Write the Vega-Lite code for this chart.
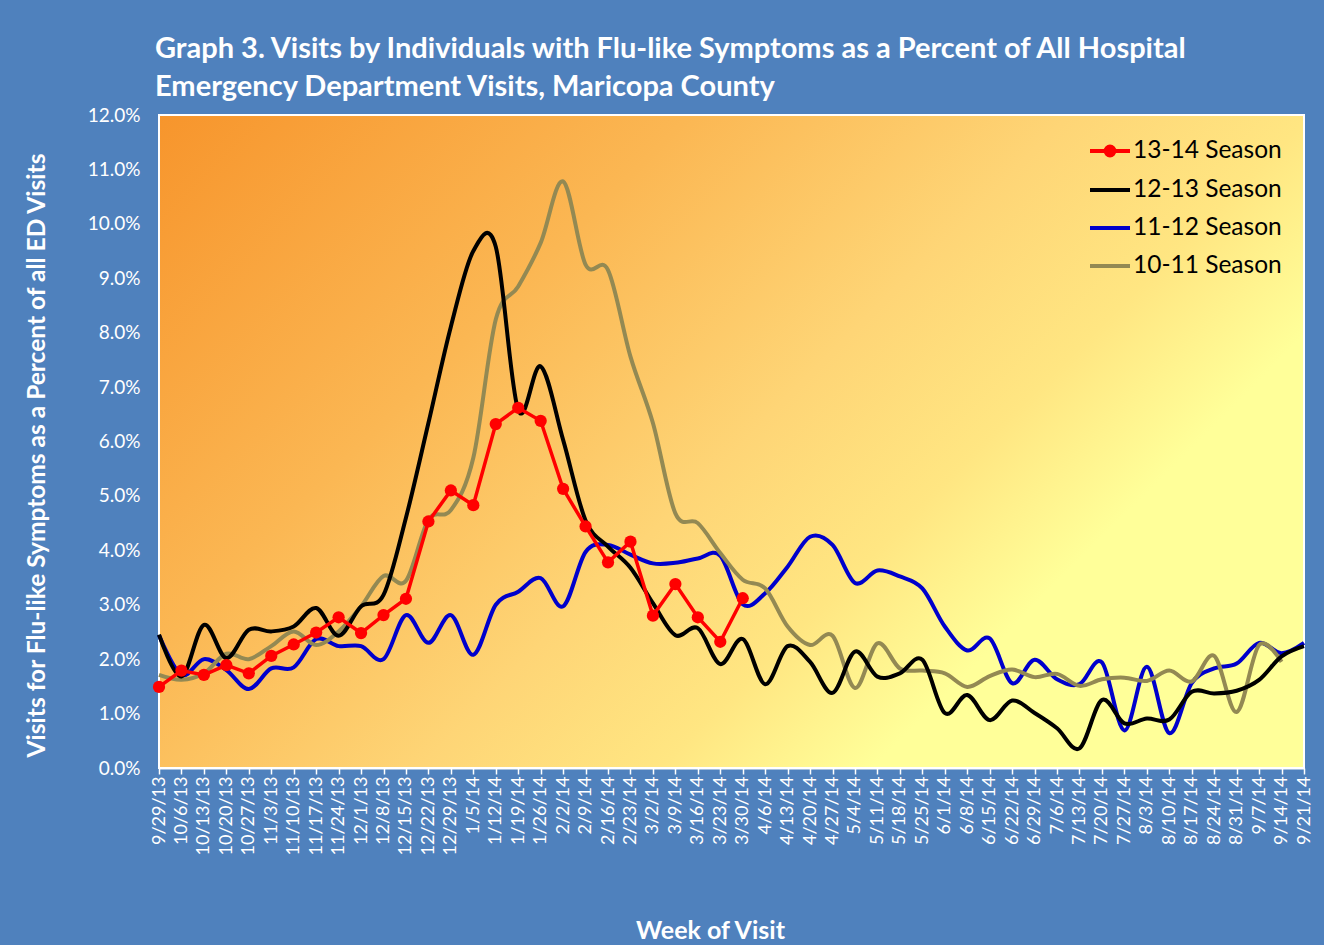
{
  "$schema": "https://vega.github.io/schema/vega-lite/v6.json",
  "width": 1145,
  "height": 653,
  "autosize": "none",
  "padding": {"left": 159, "top": 115, "right": 20, "bottom": 177},
  "background": "#4f81bd",
  "title": {
    "text": ["Graph 3. Visits by Individuals  with Flu-like Symptoms as a Percent of All Hospital", "Emergency Department Visits,  Maricopa County"],
    "anchor": "start", "frame": "group", "color": "white", "font": "Lato", "fontSize": 29, "fontWeight": "bold",
    "lineHeight": 38, "offset": 4, "dx": -4
  },
  "datasets": {
    "flu": [
      {"week": "9/29/13", "13-14 Season": 0.0149, "12-13 Season": 0.0245, "11-12 Season": 0.0244, "10-11 Season": 0.0171},
      {"week": "10/6/13", "13-14 Season": 0.0179, "12-13 Season": 0.0168, "11-12 Season": 0.0171, "10-11 Season": 0.0162},
      {"week": "10/13/13", "13-14 Season": 0.0171, "12-13 Season": 0.0263, "11-12 Season": 0.0200, "10-11 Season": 0.0174},
      {"week": "10/20/13", "13-14 Season": 0.0189, "12-13 Season": 0.0202, "11-12 Season": 0.0180, "10-11 Season": 0.0210},
      {"week": "10/27/13", "13-14 Season": 0.0174, "12-13 Season": 0.0254, "11-12 Season": 0.0145, "10-11 Season": 0.0200},
      {"week": "11/3/13", "13-14 Season": 0.0206, "12-13 Season": 0.0251, "11-12 Season": 0.0183, "10-11 Season": 0.0224},
      {"week": "11/10/13", "13-14 Season": 0.0227, "12-13 Season": 0.0260, "11-12 Season": 0.0185, "10-11 Season": 0.0251},
      {"week": "11/17/13", "13-14 Season": 0.0249, "12-13 Season": 0.0294, "11-12 Season": 0.0237, "10-11 Season": 0.0226},
      {"week": "11/24/13", "13-14 Season": 0.0277, "12-13 Season": 0.0243, "11-12 Season": 0.0224, "10-11 Season": 0.0251},
      {"week": "12/1/13", "13-14 Season": 0.0248, "12-13 Season": 0.0297, "11-12 Season": 0.0224, "10-11 Season": 0.0297},
      {"week": "12/8/13", "13-14 Season": 0.0281, "12-13 Season": 0.0318, "11-12 Season": 0.0200, "10-11 Season": 0.0353},
      {"week": "12/15/13", "13-14 Season": 0.0311, "12-13 Season": 0.0460, "11-12 Season": 0.0281, "10-11 Season": 0.0344},
      {"week": "12/22/13", "13-14 Season": 0.0453, "12-13 Season": 0.0634, "11-12 Season": 0.0230, "10-11 Season": 0.0456},
      {"week": "12/29/13", "13-14 Season": 0.0510, "12-13 Season": 0.0811, "11-12 Season": 0.0281, "10-11 Season": 0.0474},
      {"week": "1/5/14", "13-14 Season": 0.0483, "12-13 Season": 0.0950, "11-12 Season": 0.0208, "10-11 Season": 0.0570},
      {"week": "1/12/14", "13-14 Season": 0.0632, "12-13 Season": 0.0958, "11-12 Season": 0.0300, "10-11 Season": 0.0824},
      {"week": "1/19/14", "13-14 Season": 0.0662, "12-13 Season": 0.0658, "11-12 Season": 0.0324, "10-11 Season": 0.0885},
      {"week": "1/26/14", "13-14 Season": 0.0638, "12-13 Season": 0.0738, "11-12 Season": 0.0349, "10-11 Season": 0.0965},
      {"week": "2/2/14", "13-14 Season": 0.0513, "12-13 Season": 0.0603, "11-12 Season": 0.0297, "10-11 Season": 0.1078},
      {"week": "2/9/14", "13-14 Season": 0.0444, "12-13 Season": 0.0455, "11-12 Season": 0.0397, "10-11 Season": 0.0925},
      {"week": "2/16/14", "13-14 Season": 0.0378, "12-13 Season": 0.0407, "11-12 Season": 0.0410, "10-11 Season": 0.0915},
      {"week": "2/23/14", "13-14 Season": 0.0416, "12-13 Season": 0.0368, "11-12 Season": 0.0392, "10-11 Season": 0.0756},
      {"week": "3/2/14", "13-14 Season": 0.0280, "12-13 Season": 0.0303, "11-12 Season": 0.0376, "10-11 Season": 0.0634},
      {"week": "3/9/14", "13-14 Season": 0.0338, "12-13 Season": 0.0244, "11-12 Season": 0.0377, "10-11 Season": 0.0468},
      {"week": "3/16/14", "13-14 Season": 0.0277, "12-13 Season": 0.0257, "11-12 Season": 0.0385, "10-11 Season": 0.0450},
      {"week": "3/23/14", "13-14 Season": 0.0232, "12-13 Season": 0.0191, "11-12 Season": 0.0390, "10-11 Season": 0.0395},
      {"week": "3/30/14", "13-14 Season": 0.0312, "12-13 Season": 0.0237, "11-12 Season": 0.0301, "10-11 Season": 0.0346},
      {"week": "4/6/14", "12-13 Season": 0.0154, "11-12 Season": 0.0321, "10-11 Season": 0.0330},
      {"week": "4/13/14", "12-13 Season": 0.0224, "11-12 Season": 0.0370, "10-11 Season": 0.0260},
      {"week": "4/20/14", "12-13 Season": 0.0195, "11-12 Season": 0.0425, "10-11 Season": 0.0226},
      {"week": "4/27/14", "12-13 Season": 0.0138, "11-12 Season": 0.0410, "10-11 Season": 0.0243},
      {"week": "5/4/14", "12-13 Season": 0.0214, "11-12 Season": 0.0340, "10-11 Season": 0.0147},
      {"week": "5/11/14", "12-13 Season": 0.0168, "11-12 Season": 0.0363, "10-11 Season": 0.0229},
      {"week": "5/18/14", "12-13 Season": 0.0174, "11-12 Season": 0.0352, "10-11 Season": 0.0183},
      {"week": "5/25/14", "12-13 Season": 0.0199, "11-12 Season": 0.0330, "10-11 Season": 0.0179},
      {"week": "6/1/14", "12-13 Season": 0.0101, "11-12 Season": 0.0260, "10-11 Season": 0.0174},
      {"week": "6/8/14", "12-13 Season": 0.0134, "11-12 Season": 0.0216, "10-11 Season": 0.0149},
      {"week": "6/15/14", "12-13 Season": 0.0088, "11-12 Season": 0.0238, "10-11 Season": 0.0169},
      {"week": "6/22/14", "12-13 Season": 0.0124, "11-12 Season": 0.0156, "10-11 Season": 0.0181},
      {"week": "6/29/14", "12-13 Season": 0.0101, "11-12 Season": 0.0199, "10-11 Season": 0.0167},
      {"week": "7/6/14", "12-13 Season": 0.0073, "11-12 Season": 0.0163, "10-11 Season": 0.0173},
      {"week": "7/13/14", "12-13 Season": 0.0036, "11-12 Season": 0.0154, "10-11 Season": 0.0151},
      {"week": "7/20/14", "12-13 Season": 0.0125, "11-12 Season": 0.0194, "10-11 Season": 0.0163},
      {"week": "7/27/14", "12-13 Season": 0.0082, "11-12 Season": 0.0069, "10-11 Season": 0.0166},
      {"week": "8/3/14", "12-13 Season": 0.0091, "11-12 Season": 0.0186, "10-11 Season": 0.0160},
      {"week": "8/10/14", "12-13 Season": 0.0089, "11-12 Season": 0.0064, "10-11 Season": 0.0179},
      {"week": "8/17/14", "12-13 Season": 0.0140, "11-12 Season": 0.0156, "10-11 Season": 0.0159},
      {"week": "8/24/14", "12-13 Season": 0.0137, "11-12 Season": 0.0183, "10-11 Season": 0.0206},
      {"week": "8/31/14", "12-13 Season": 0.0142, "11-12 Season": 0.0192, "10-11 Season": 0.0103},
      {"week": "9/7/14", "12-13 Season": 0.0162, "11-12 Season": 0.0230, "10-11 Season": 0.0226},
      {"week": "9/14/14", "12-13 Season": 0.0205, "11-12 Season": 0.0211, "10-11 Season": 0.0195},
      {"week": "9/21/14", "12-13 Season": 0.0224, "11-12 Season": 0.0230}
    ]
  },
  "layer": [
    {
      "data": {"values": [{"panel": "plot"}]},
      "mark": {
        "type": "rect",
        "fill": {
          "gradient": "linear", "x1": 0, "y1": 0, "x2": 1, "y2": 0.57,
          "stops": [
            {"offset": 0, "color": "#f7952c"},
            {"offset": 0.35, "color": "#fbb753"},
            {"offset": 0.6, "color": "#fed576"},
            {"offset": 0.76, "color": "#ffe682"},
            {"offset": 0.9, "color": "#ffff99"},
            {"offset": 1, "color": "#ffff99"}
          ]
        },
        "stroke": "white", "strokeWidth": 2
      },
      "encoding": {
        "x": {
          "datum": "9/29/13", "type": "ordinal", "title": "Week of Visit",
          "scale": {"type": "point", "padding": 0, "domain": ["9/29/13","10/6/13","10/13/13","10/20/13","10/27/13","11/3/13","11/10/13","11/17/13","11/24/13","12/1/13","12/8/13","12/15/13","12/22/13","12/29/13","1/5/14","1/12/14","1/19/14","1/26/14","2/2/14","2/9/14","2/16/14","2/23/14","3/2/14","3/9/14","3/16/14","3/23/14","3/30/14","4/6/14","4/13/14","4/20/14","4/27/14","5/4/14","5/11/14","5/18/14","5/25/14","6/1/14","6/8/14","6/15/14","6/22/14","6/29/14","7/6/14","7/13/14","7/20/14","7/27/14","8/3/14","8/10/14","8/17/14","8/24/14","8/31/14","9/7/14","9/14/14","9/21/14"]},
          "axis": {
            "labelAngle": -90, "labelFontSize": 18, "labelOverlap": false, "labelColor": "white", "labelFont": "Lato",
            "tickSize": 6, "tickWidth": 1.5, "tickColor": "white", "domainColor": "white", "domainWidth": 2, "labelPadding": 2,
            "titleFontSize": 25, "titleFontWeight": "bold", "titleColor": "white", "titleFont": "Lato",
            "titleX": 551, "titleY": 162, "titleBaseline": "middle", "titleAlign": "center", "grid": false
          }
        },
        "x2": {"datum": "9/21/14"},
        "y": {
          "datum": 0, "type": "quantitative", "title": "Visits for Flu-like Symptoms as a Percent of all ED Visits",
          "scale": {"domain": [0, 0.12], "nice": false},
          "axis": {
            "values": [0, 0.01, 0.02, 0.03, 0.04, 0.05, 0.06, 0.07, 0.08, 0.09, 0.1, 0.11, 0.12],
            "format": ".1%", "labelFontSize": 19, "labelColor": "white", "labelFont": "Lato",
            "ticks": false, "tickSize": 0, "domain": false, "labelPadding": 19, "grid": false,
            "titleFontSize": 24.5, "titleFontWeight": "bold", "titleColor": "white", "titleFont": "Lato",
            "titleX": -122, "titleY": 340, "titleAngle": -90, "titleAlign": "center", "titleBaseline": "middle"
          }
        },
        "y2": {"datum": 0.12}
      }
    },
    {
      "data": {"name": "flu"},
      "transform": [
        {"fold": ["11-12 Season", "10-11 Season", "12-13 Season"], "as": ["season", "pct"]},
        {"filter": "isValid(datum.pct)"}
      ],
      "mark": {"type": "line", "interpolate": "cardinal", "strokeWidth": 4},
      "encoding": {
        "x": {"field": "week", "type": "ordinal", "title": "Week of Visit"},
        "y": {"field": "pct", "type": "quantitative", "title": "Visits for Flu-like Symptoms as a Percent of all ED Visits"},
        "order": {"value": null},
        "color": {
          "field": "season", "type": "nominal",
          "scale": {"domain": ["13-14 Season", "12-13 Season", "11-12 Season", "10-11 Season"], "range": ["#ff0000", "#000000", "#0000cc", "#938953"]},
          "legend": {
            "orient": "none", "legendX": 929, "legendY": 14, "title": null, "padding": 0,
            "labelFontSize": 24.5, "labelColor": "black", "labelFont": "Lato",
            "symbolSize": 1600, "symbolStrokeWidth": 4, "rowPadding": 4, "labelOffset": 1,
            "encode": {
              "symbols": {
                "update": {
                  "shape": {"signal": "datum.value === '13-14 Season' ? 'M-1,0H1M0.22,0A0.22,0.22,0,1,1,-0.22,0A0.22,0.22,0,1,1,0.22,0Z' : 'M-1,0H1'"},
                  "fill": {"scale": "color", "field": "value"},
                  "stroke": {"scale": "color", "field": "value"},
                  "strokeWidth": {"value": 4},
                  "opacity": {"value": 1}
                }
              }
            }
          }
        }
      }
    },
    {
      "data": {"name": "flu"},
      "transform": [
        {"fold": ["13-14 Season"], "as": ["season", "pct"]},
        {"filter": "isValid(datum.pct)"}
      ],
      "mark": {"type": "line", "strokeWidth": 3.5, "point": {"filled": true, "size": 150, "opacity": 1}},
      "encoding": {
        "x": {"field": "week", "type": "ordinal", "title": "Week of Visit"},
        "y": {"field": "pct", "type": "quantitative", "title": "Visits for Flu-like Symptoms as a Percent of all ED Visits"},
        "order": {"value": null},
        "color": {"field": "season", "type": "nominal"}
      }
    }
  ],
  "config": {"view": {"stroke": null}, "font": "Lato"}
}
